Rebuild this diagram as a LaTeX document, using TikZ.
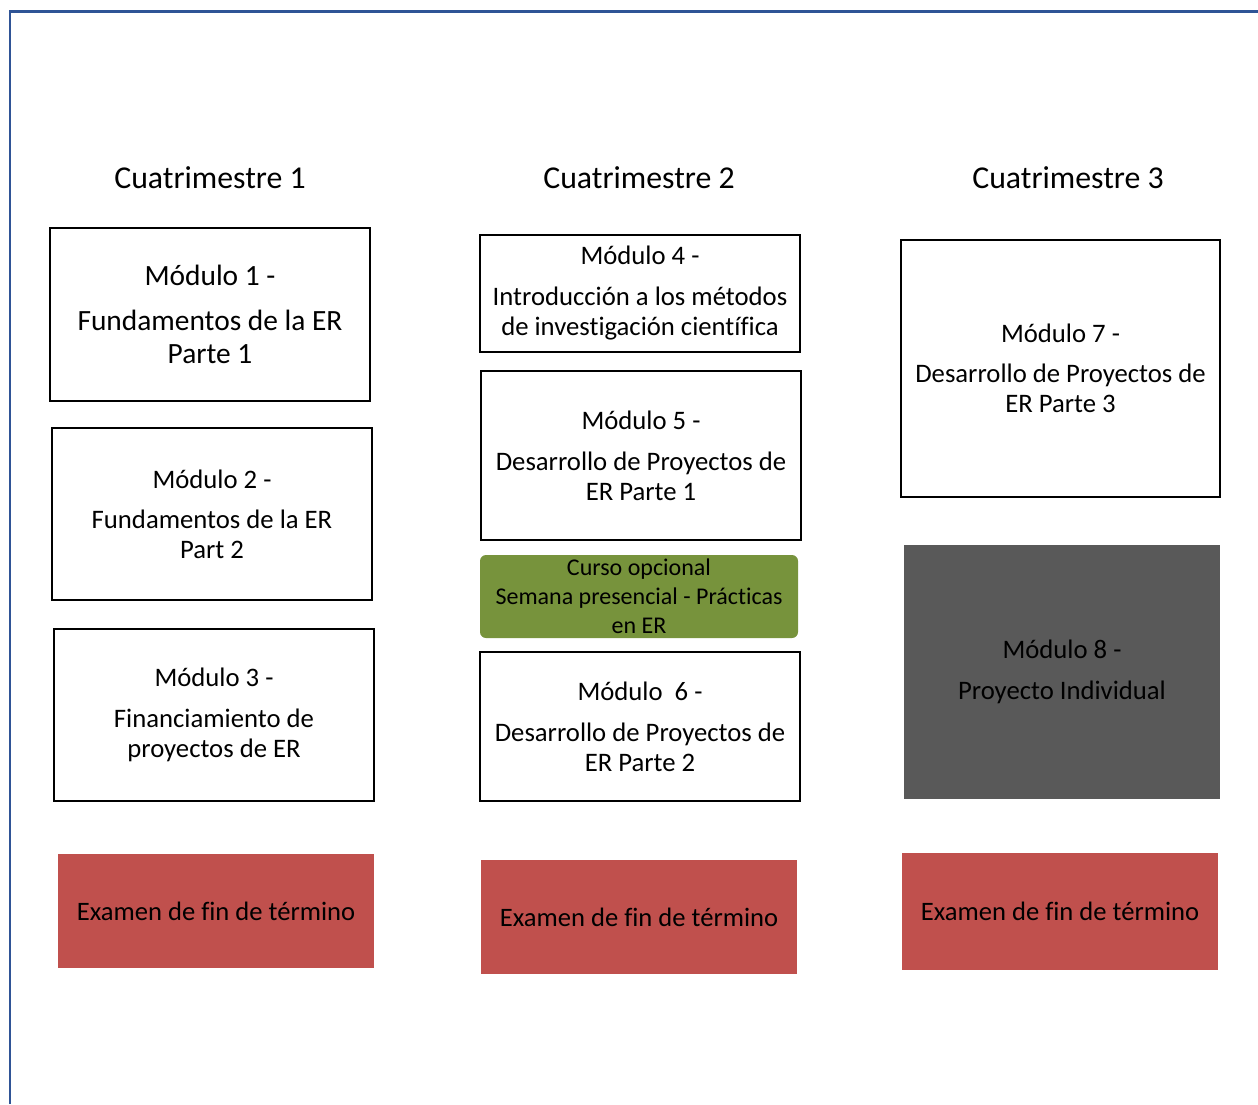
\documentclass[tikz,border=0pt]{standalone}
\usepackage{fontspec}
\setmainfont[Ligatures=NoCommon]{Carlito}
\definecolor{frameBlue}{RGB}{47,84,150}
\definecolor{examRed}{RGB}{192,80,77}
\definecolor{optGreen}{RGB}{119,147,60}
\definecolor{projGrey}{RGB}{89,89,89}

\begin{document}
\begin{tikzpicture}[x=1pt, y=-1pt,
    termhead/.style={font=\fontsize{31.8}{36}\selectfont},
    modbox/.style={draw=black, line width=2pt, align=center, inner sep=0pt,
      minimum width=320pt, font=\fontsize{26.7}{30}\selectfont},
    exambox/.style={fill=examRed, inner sep=0pt, minimum width=316pt,
      font=\fontsize{26.6}{30}\selectfont}]

    % marco de la pagina
    \useasboundingbox (0,0) rectangle (1258,1104);
    \draw[frameBlue, line width=2.5pt] (10,1104) -- (10,11.5) -- (1258,11.5);

    % 1. ENCABEZADOS
    \node[termhead] (head1) at (210,178) {Cuatrimestre 1};
    \node[termhead] (head2) at (639,178) {Cuatrimestre 2};
    \node[termhead] (head3) at (1068,178) {Cuatrimestre 3};

    % 2. CUATRIMESTRE 1
    \node[modbox, minimum height=173pt, font=\fontsize{29.4}{33}\selectfont] (mod1) at (210,314.5)
      {Módulo 1 -\\[12pt]Fundamentos de la ER\\Parte 1};
    \node[modbox, minimum height=172pt] (mod2) at (212,514)
      {Módulo 2 -\\[10pt]Fundamentos de la ER\\Part 2};
    \node[modbox, minimum height=172pt] (mod3) at (214,715)
      {Módulo 3 -\\[11pt]Financiamiento de\\proyectos de ER};
    \node[exambox, minimum height=114pt] (exam1) at (216,911) {Examen de fin de término};

    % 3. CUATRIMESTRE 2
    \node[modbox, minimum height=117pt] (mod4) at (640,293.5)
      {Módulo 4 -\\[11pt]Introducción a los métodos\\de investigación científica};
    \node[modbox, minimum height=169pt] (mod5) at (641,455.5)
      {Módulo 5 -\\[11pt]Desarrollo de Proyectos de\\ER Parte 1};
    \node[fill=optGreen, rounded corners=6pt, align=center, inner sep=0pt,
      minimum width=318pt, minimum height=83pt, font=\fontsize{24}{29}\selectfont] (optional) at (639,596.5)
      {Curso opcional\\Semana presencial - Prácticas\\en ER};
    \node[modbox, minimum height=149pt] (mod6) at (640,726.5)
      {Módulo~ 6 -\\[11pt]Desarrollo de Proyectos de\\ER Parte 2};
    \node[exambox, minimum height=114pt] (exam2) at (639,917) {Examen de fin de término};

    % 4. CUATRIMESTRE 3
    \node[modbox, minimum width=319pt, minimum height=257pt] (mod7) at (1060.5,368.5)
      {Módulo 7 -\\[10pt]Desarrollo de Proyectos de\\ER Parte 3};
    \node[fill=projGrey, align=center, inner sep=0pt, minimum width=316pt, minimum height=254pt,
      font=\fontsize{26.7}{41}\selectfont] (mod8) at (1062,672)
      {Módulo 8 -\\Proyecto Individual};
    \node[exambox, minimum height=117pt] (exam3) at (1060,911.5) {Examen de fin de término};

\end{tikzpicture}
\end{document}
